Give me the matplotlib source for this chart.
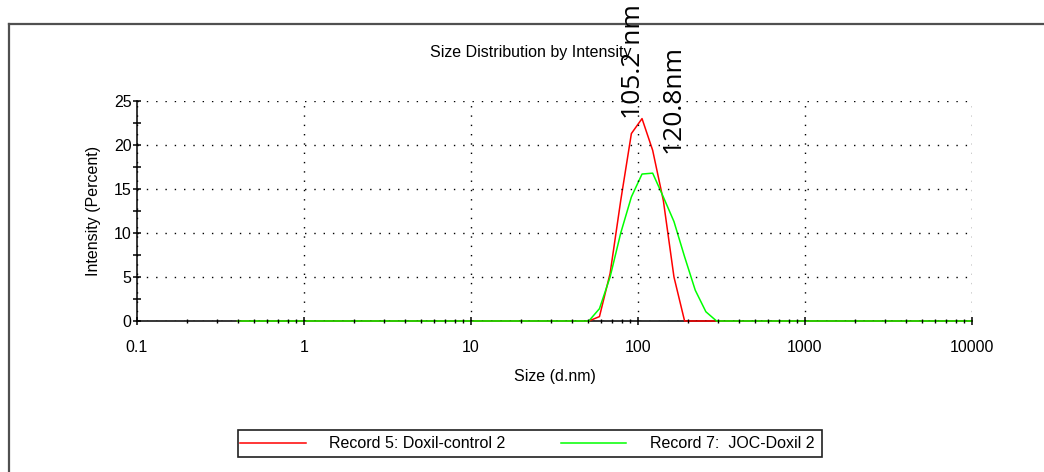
import matplotlib
matplotlib.use("Agg")
import matplotlib.pyplot as plt
from matplotlib.lines import Line2D
from matplotlib.patches import Rectangle
from matplotlib.ticker import FixedLocator, LogLocator, NullFormatter, FixedFormatter

plt.rcParams['font.family'] = ['Liberation Sans', 'DejaVu Sans']

# Size bins (d.nm)
sizes = [0.4, 0.4632, 0.5365, 0.6213, 0.7195, 0.8332, 0.9649, 1.117, 1.294, 1.499,
         1.736, 2.01, 2.328, 2.696, 3.122, 3.615, 4.187, 4.849, 5.615, 6.503,
         7.531, 8.721, 10.1, 11.7, 13.54, 15.69, 18.17, 21.04, 24.36, 28.21,
         32.67, 37.84, 43.82, 50.75, 58.77, 68.06, 78.82, 91.28, 105.7, 122.4,
         141.8, 164.2, 190.1, 220.2, 255.0, 295.3, 342.0, 396.1, 458.7, 531.2,
         615.1, 712.4, 825.0, 955.4, 1106, 1281, 1484, 1718, 1990, 2305,
         2669, 3091, 3580, 4145, 4801, 5560, 6439, 7456, 8635, 10000]

# Intensity (%) non-zero part, bins 50.75 ... 295.3
control_peak = [0.0, 0.5, 5.4, 13.7, 21.3, 23.0, 19.4, 13.7, 5.0, 0.0, 0.0, 0.0, 0.0]
joc_peak = [0.0, 1.4, 5.0, 10.0, 14.1, 16.7, 16.8, 14.1, 11.3, 7.3, 3.5, 1.05, 0.0]

n_before = 33
n_after = len(sizes) - n_before - len(control_peak)
control = [0.0] * n_before + control_peak + [0.0] * n_after
joc = [0.0] * n_before + joc_peak + [0.0] * n_after

series_labels = ["Record 5: Doxil-control 2", "Record 7:  JOC-Doxil 2"]
series_colors = ["#ff0000", "#00ff00"]
x_ticks = [0.1, 1, 10, 100, 1000, 10000]
x_ticklabels = ["0.1", "1", "10", "100", "1000", "10000"]
y_ticks = [0, 5, 10, 15, 20, 25]
peak_labels = ["105.2 nm", "120.8nm"]

W, H = 1044, 472
fig = plt.figure(figsize=(W / 100, H / 100), dpi=100)
ax = fig.add_axes([137 / W, 1 - 321 / H, (972 - 137) / W, (321 - 101) / H])

ax.plot(sizes, control, color=series_colors[0], lw=1.1, zorder=2, clip_on=False)
ax.plot(sizes, joc, color=series_colors[1], lw=1.1, zorder=2.1, clip_on=False)

ax.set_xscale('log')
ax.set_xlim(0.1, 10000)
ax.set_ylim(0, 25)
ax.xaxis.set_major_locator(FixedLocator(x_ticks))
ax.xaxis.set_major_formatter(FixedFormatter(x_ticklabels))
ax.xaxis.set_minor_locator(LogLocator(base=10, subs=range(2, 10)))
ax.xaxis.set_minor_formatter(NullFormatter())
ax.yaxis.set_major_locator(FixedLocator(y_ticks))
ax.yaxis.set_minor_locator(FixedLocator([2.5, 7.5, 12.5, 17.5, 22.5]))

for s in ['top', 'right']:
    ax.spines[s].set_visible(False)
for s in ['left', 'bottom']:
    ax.spines[s].set_linewidth(1.1)
    ax.spines[s].set_zorder(1.5)

ax.set_axisbelow(False)
ax.grid(True, which='major', color='black', linestyle=(0, (1, 5.7)), linewidth=1.0)
ax.tick_params(axis='both', which='major', direction='inout', length=6, width=1.1,
               labelsize=11.5, color='black')
ax.tick_params(axis='x', which='minor', direction='inout', length=3.5, width=1.0)
ax.tick_params(axis='y', which='minor', direction='inout', length=6, width=1.1)
ax.tick_params(axis='x', which='major', pad=11)
ax.tick_params(axis='y', which='major', pad=1)

ax.set_xlabel("Size (d.nm)", fontsize=11.5, labelpad=10)
ax.set_ylabel("Intensity (Percent)", fontsize=11.5, labelpad=9)
fig.text(531 / W, 1 - 52 / H, "Size Distribution by Intensity", fontsize=11.5,
         ha='center', va='center')

# Peak annotations
fig.text(634 / W, 1 - 62 / H, peak_labels[0], rotation=90, fontsize=19,
         family=['Open Sans', 'DejaVu Sans'], ha='center', va='center')
fig.text(673 / W, 1 - 99 / H, peak_labels[1], rotation=90, fontsize=19,
         family=['Open Sans', 'DejaVu Sans'], ha='center', va='center')

# Outer frame
fig.add_artist(Line2D([9 / W, 9 / W], [0, 1 - 24 / H], transform=fig.transFigure,
                      color='#505050', lw=1.6))
fig.add_artist(Line2D([9 / W, 1], [1 - 24 / H, 1 - 24 / H], transform=fig.transFigure,
                      color='#505050', lw=1.6))

# Legend box
fig.add_artist(Rectangle((238 / W, 1 - 457 / H), (822 - 238) / W, (457 - 430) / H,
                         transform=fig.transFigure, fill=False, edgecolor='#202020', lw=1.2))
ly = 1 - 443 / H
fig.add_artist(Line2D([240 / W, 306 / W], [ly, ly], transform=fig.transFigure,
                      color=series_colors[0], lw=1.1))
fig.text(329 / W, ly, series_labels[0], fontsize=11.5, ha='left', va='center')
fig.add_artist(Line2D([561 / W, 626 / W], [ly, ly], transform=fig.transFigure,
                      color=series_colors[1], lw=1.1))
fig.text(650 / W, ly, series_labels[1], fontsize=11.5, ha='left', va='center')

fig.savefig("out.png", dpi=100)
